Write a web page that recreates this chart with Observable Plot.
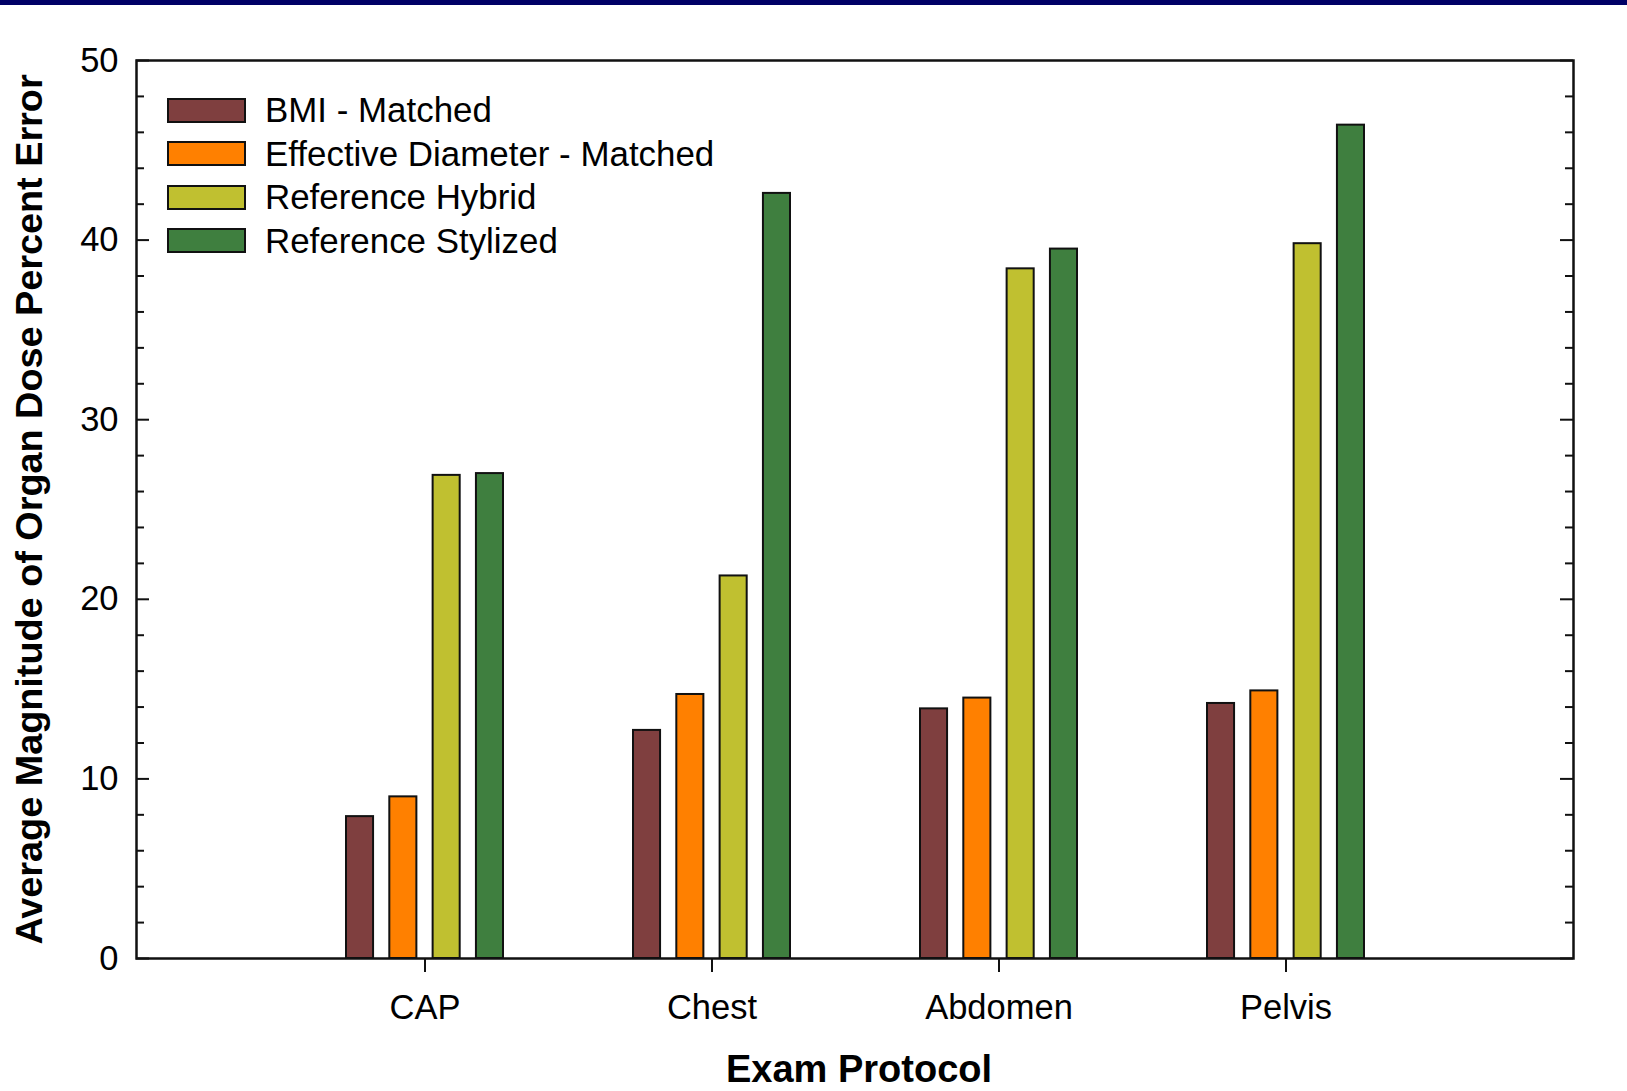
<!DOCTYPE html>
<html>
<head>
<meta charset="utf-8">
<script src="https://cdn.jsdelivr.net/npm/d3@7"></script>
<script src="https://cdn.jsdelivr.net/npm/@observablehq/plot@0.6"></script>
<style>
  html, body { margin: 0; padding: 0; background: #fff; }
  #topbar { height: 5px; background: #000066; width: 1627px; }
  #wrap { position: relative; width: 1627px; }
  #wrap svg { display: block; }
  .legend { position: absolute; left: 167px; top: 0; font-family: "Liberation Sans", Arial, sans-serif; font-size: 34.9px; color: #000; }
  .legend .row { position: absolute; left: 0; height: 40px; display: flex; align-items: center; white-space: nowrap; }
  .legend .sw { box-sizing: border-box; width: 79px; height: 25px; border: 2px solid #111; flex: none; }
  .legend .lab { margin-left: 19px; }
</style>
</head>
<body>
<div id="topbar"></div>
<div id="wrap"></div>
<script>
// Exam protocols on the x axis
const protocols = ["CAP", "Chest", "Abdomen", "Pelvis"];

// Phantom-matching approaches (one bar per protocol each)
const seriesNames = [
  "BMI - Matched",
  "Effective Diameter - Matched",
  "Reference Hybrid",
  "Reference Stylized"
];
const seriesColors = ["#7f3f3f", "#ff8000", "#c0c030", "#3f7f3f"];

// Average magnitude of organ dose percent error, per protocol
const bmiMatched      = [7.9, 12.7, 13.9, 14.2];
const effDiamMatched  = [9.0, 14.7, 14.5, 14.9];
const refHybrid       = [26.9, 21.3, 38.4, 39.8];
const refStylized     = [27.0, 42.6, 39.5, 46.4];
const seriesValues = [bmiMatched, effDiamMatched, refHybrid, refStylized];

// Axis ticks
const yTickLabels = [0, 10, 20, 30, 40, 50];
const yMinorTicks = [2, 4, 6, 8, 12, 14, 16, 18, 22, 24, 26, 28, 32, 34, 36, 38, 42, 44, 46, 48];

const rows = protocols.flatMap((p, i) =>
  seriesNames.map((s, j) => ({protocol: p, series: s, value: seriesValues[j][i]}))
);

const W = 1627, H = 1086;
const margin = {top: 55, right: 54, bottom: 133, left: 136};
const frameW = W - margin.left - margin.right;
const padInner = 0.454, padOuter = 0.727;

// group band, then split each group into four bars
const band = d3.scaleBand().domain(protocols)
  .range([margin.left, W - margin.right])
  .paddingInner(padInner).paddingOuter(padOuter);
const bw = band.bandwidth();
const sub = d3.scaleBand().domain(seriesNames).range([0, bw]).paddingInner(0.377);

const font = "'Liberation Sans', Arial, sans-serif";
const ink = "#111";

const plot = Plot.plot({
  width: W,
  height: H,
  marginTop: margin.top,
  marginRight: margin.right,
  marginBottom: margin.bottom,
  marginLeft: margin.left,
  style: {fontFamily: font, color: "#000", background: "#fff", overflow: "visible"},
  x: {type: "band", domain: protocols, paddingInner: padInner, paddingOuter: padOuter, axis: null},
  y: {domain: [0, 50], axis: null},
  color: {domain: seriesNames, range: seriesColors},
  marks: [
    ...seriesNames.map(s => Plot.barY(rows.filter(d => d.series === s), {
      x: "protocol",
      y: "value",
      fill: "series",
      stroke: ink,
      strokeWidth: 2,
      insetLeft: sub(s),
      insetRight: bw - sub(s) - sub.bandwidth()
    })),
    // inward minor ticks, left and right
    Plot.tickY(yMinorTicks, {y: d => d, insetRight: frameW - 8, stroke: ink, strokeWidth: 2}),
    Plot.tickY(yMinorTicks, {y: d => d, insetLeft: frameW - 8, stroke: ink, strokeWidth: 2}),
    // inward major ticks, left and right
    Plot.tickY(yTickLabels, {y: d => d, insetRight: frameW - 13, stroke: ink, strokeWidth: 2}),
    Plot.tickY(yTickLabels, {y: d => d, insetLeft: frameW - 13, stroke: ink, strokeWidth: 2}),
    Plot.axisY(yTickLabels, {anchor: "left", tickSize: 0, tickPadding: 18, fontSize: 34.5, label: null, fill: "#000"}),
    Plot.axisX({tickSize: 14, tickPadding: 22, fontSize: 34.5, label: null, stroke: ink, strokeWidth: 2, fill: "#000"}),
    Plot.frame({stroke: ink, strokeWidth: 2.5}),
    Plot.text(["Average Magnitude of Organ Dose Percent Error"], {
      frameAnchor: "left", dx: -107, rotate: -90,
      textAnchor: "middle", lineAnchor: "middle",
      fontSize: 37.8, fontWeight: "bold", fill: "#000"
    }),
    Plot.text(["Exam Protocol"], {
      frameAnchor: "bottom", dx: 4, dy: 111,
      textAnchor: "middle", lineAnchor: "middle",
      fontSize: 38, fontWeight: "bold", fill: "#000"
    })
  ]
});

const wrap = document.getElementById("wrap");
wrap.appendChild(plot);

// legend inside the plot area, top-left
const colorScale = plot.scale("color");
const legend = document.createElement("div");
legend.className = "legend";
const rowCenters = [105, 148.6, 192, 235.7];
seriesNames.forEach((s, i) => {
  const row = document.createElement("div");
  row.className = "row";
  row.style.top = (rowCenters[i] - 20) + "px";
  const sw = document.createElement("div");
  sw.className = "sw";
  sw.style.background = colorScale.range[colorScale.domain.indexOf(s)];
  const lab = document.createElement("span");
  lab.className = "lab";
  lab.textContent = s;
  row.appendChild(sw);
  row.appendChild(lab);
  legend.appendChild(row);
});
wrap.appendChild(legend);
</script>
</body>
</html>
